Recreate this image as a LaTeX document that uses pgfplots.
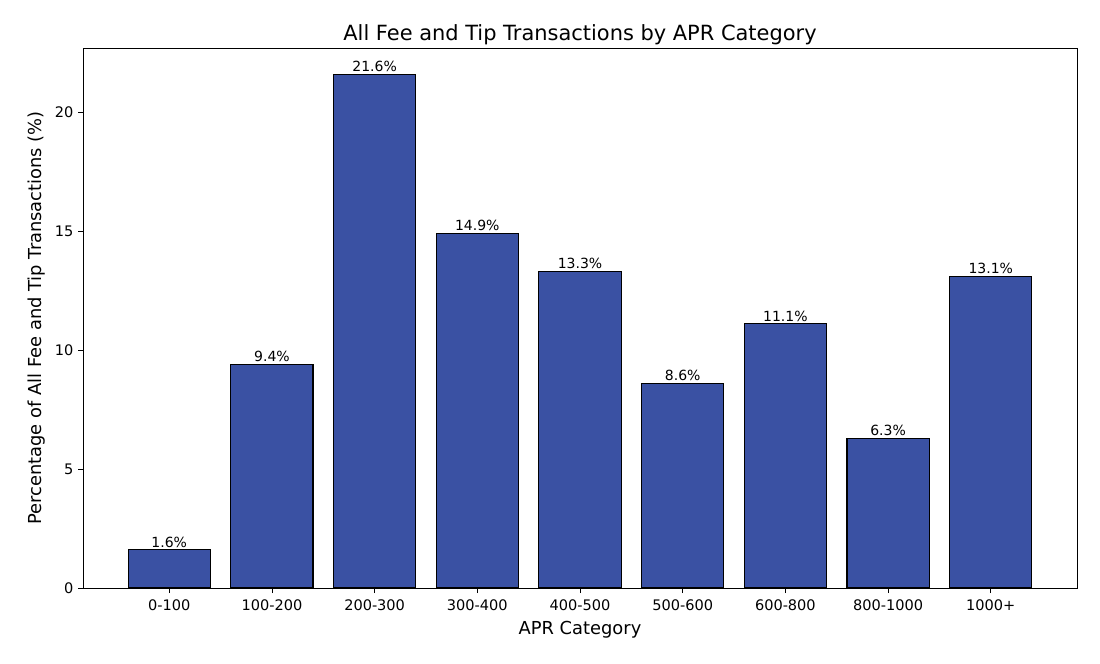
\documentclass[border=0pt]{standalone}
\usepackage{pgfplots}
\pgfplotsset{compat=1.18}
\usepackage{fontspec}
\setmainfont{DejaVu Sans}
\definecolor{barblue}{HTML}{3A51A3}

\begin{document}
\begin{tikzpicture}
\begin{axis}[
    scale only axis,
    width=745.5pt, height=405pt,
    xmin=-0.84, xmax=8.84,
    ymin=0, ymax=22.7,
    xtick={0,1,2,3,4,5,6,7,8},
    xticklabels={0-100,100-200,200-300,300-400,400-500,500-600,600-800,800-1000,1000+},
    ytick={0,5,10,15,20},
    tick align=outside,
    tick pos=left,
    major tick length=3.75pt,
    every tick/.style={black, line width=0.6pt},
    axis line style={black, line width=0.6pt},
    ticklabel style={font=\fontsize{10.9}{12}\selectfont},
    xticklabel style={yshift=-1.5pt},
    /pgf/number format/assume math mode=true,
    xlabel={APR Category},
    ylabel={Percentage of All Fee and Tip Transactions (\%)},
    label style={font=\fontsize{13.4}{15}\selectfont},
    xlabel style={yshift=-1pt},
    title={All Fee and Tip Transactions by APR Category},
    title style={font=\fontsize{15.7}{18}\selectfont, yshift=-7.5pt},
    ybar, bar width=0.8,
    nodes near coords={\pgfmathprintnumber[fixed,fixed zerofill,precision=1]{\pgfplotspointmeta}\%},
    nodes near coords style={font=\fontsize{10.5}{12}\selectfont, anchor=south, inner sep=1.5pt},
]
\addplot[fill=barblue, draw=black, line width=0.8pt] coordinates {
    (0,1.6) (1,9.4) (2,21.6) (3,14.9) (4,13.3) (5,8.6) (6,11.1) (7,6.3) (8,13.1)
};
\coordinate (ll) at (rel axis cs:0,0);
\coordinate (ur) at (rel axis cs:1,1);
\end{axis}
\pgfresetboundingbox
\path ([shift={(-62.25pt,-56.25pt)}]ll) rectangle ([shift={(17.25pt,36pt)}]ur);
\end{tikzpicture}
\end{document}
